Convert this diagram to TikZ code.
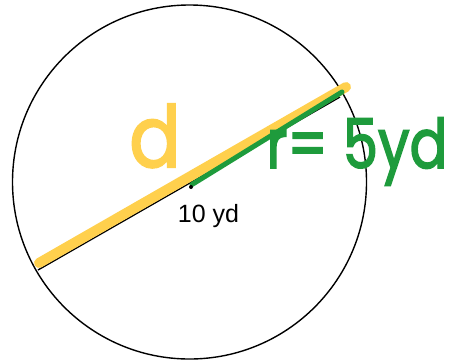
\documentclass[tikz,border=0pt]{standalone}
\usepackage{fontspec}
\usepackage{graphicx}
\setmainfont{Liberation Sans}
\newfontfamily\handfont{Poppins}[FakeBold=2.5]
\definecolor{markeryellow}{RGB}{255,208,77}
\definecolor{markergreen}{RGB}{30,155,60}
\tikzset{
  outline/.style={draw=black, line width=1.4pt},
  yellowmarker/.style={draw=markeryellow, line width=10pt, line cap=round},
  greenmarker/.style={draw=markergreen, line width=5pt, line cap=round},
  handtext/.style={inner sep=0pt, anchor=base},
  plaintext/.style={font=\fontsize{25}{30}\selectfont, inner sep=0pt, anchor=base, text=black}
}
\begin{document}
\begin{tikzpicture}[x=1pt,y=-1pt]
\useasboundingbox (0,0) rectangle (454,362);
\fill[white] (0,0) rectangle (454,362);
% circle
\coordinate (O) at (189.5,182);
\draw[outline] (O) circle[radius=177];
% diameter (black)
\coordinate (A) at (38,270);
\coordinate (B) at (340,97);
\draw[outline] (A) -- (B);
% yellow marker diameter
\coordinate (YA) at (39,263);
\coordinate (YB) at (346,87);
\draw[yellowmarker] (YA) -- (YB);
% green radius
\coordinate (C) at (192,184.5);
\coordinate (GB) at (342,92);
\draw[greenmarker] (C) -- (GB);
% centre dot
\coordinate (dot) at (191,187);
\fill[black] (dot) circle[radius=2];
% labels
\node[handtext, text=markeryellow, font=\handfont\fontsize{76}{76}\selectfont] (dlabel) at (155,167) {\scalebox{1}[1.12]{d}};
\node[handtext, text=markergreen, font=\handfont\fontsize{56}{56}\selectfont] (rlabel) at (357,168) {\scalebox{1}[1.22]{r= 5yd}};
\node[plaintext] (diam) at (208.5,222) {10 yd};
\end{tikzpicture}
\end{document}
